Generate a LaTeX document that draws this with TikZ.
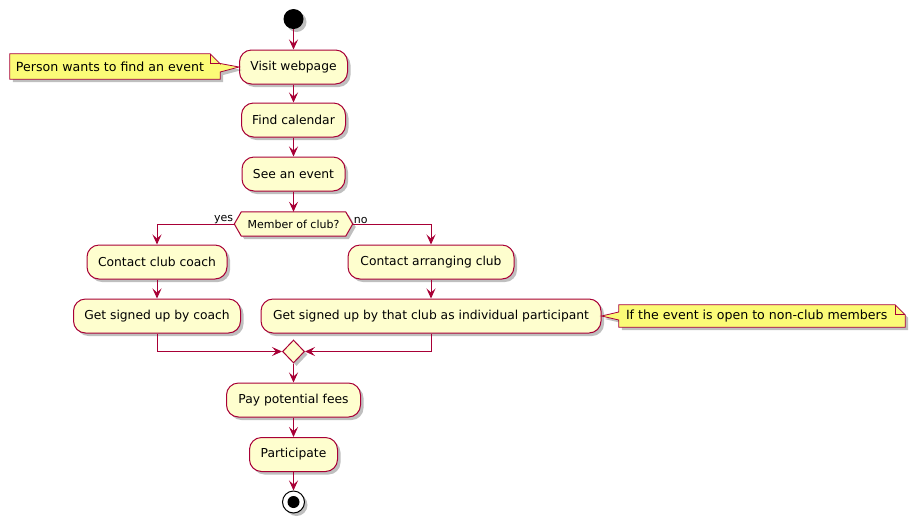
\documentclass[tikz,border=0pt]{standalone}
\usepackage{fontspec}
\setmainfont{DejaVu Sans}
\usetikzlibrary{arrows.meta,shapes.geometric,shadows,calc}
\definecolor{bd}{HTML}{A80036}
\definecolor{bg}{HTML}{FEFECE}
\definecolor{nt}{HTML}{FBFB77}
\tikzset{
  shd/.style={drop shadow={shadow xshift=3pt,shadow yshift=-3pt,opacity=0.25,fill=black}},
  act/.style={draw=bd, fill=bg, rounded corners=12pt, line width=1pt, minimum height=34pt, inner sep=0pt, font=\fontsize{12.3}{14}\selectfont, shd},
  flow/.style={draw=bd, line width=1pt, -{Stealth[length=10pt,width=9pt,inset=4pt]}},
  lbl/.style={font=\fontsize{11}{13}\selectfont, inner sep=1pt},
  notebox/.style={draw=none, inner sep=0pt, minimum height=25pt},
  noteline/.style={draw=bd, fill=nt, line width=0.8pt, shd},
  notetext/.style={font=\fontsize{12.6}{14}\selectfont, inner sep=0pt, anchor=west},
}
\begin{document}
\begin{tikzpicture}[x=1pt,y=-1pt]
\useasboundingbox (0,0) rectangle (915,523);
% start
\node[circle, fill=black, minimum size=20pt, inner sep=0pt, shd] (start) at (293.5,19) {};
% activities
\node[act, minimum width=108pt] (visit) at (293.5,67) {Visit webpage};
\node[act, minimum width=104pt] (cal) at (293.5,120) {Find calendar};
\node[act, minimum width=103pt] (see) at (293.5,174) {See an event};
% decision
\node[draw=none, minimum width=118pt, minimum height=24pt, inner sep=0pt] (q) at (293.5,224) {};
\path[draw=bd, fill=bg, line width=1pt, shd] (q.west) -- ([xshift=7pt]q.north west) -- ([xshift=-7pt]q.north east) -- (q.east) -- ([xshift=-7pt]q.south east) -- ([xshift=7pt]q.south west) -- cycle;
\node[lbl] at (q) {Member of club?};
\node[act, minimum width=140pt] (coach) at (157,262) {Contact club coach};
\node[act, minimum width=167pt] (signc) at (157,316) {Get signed up by coach};
\node[act, minimum width=340pt] (signa) at (431,316) {Get signed up by that club as individual participant};
\node[act, minimum width=166pt] (arr) at (431,262) {Contact arranging club};
\node[diamond, draw=bd, fill=bg, line width=1pt, minimum width=22pt, minimum height=23pt, inner sep=0pt, shd] (merge) at (293.5,351.5) {};
\node[act, minimum width=134pt] (pay) at (293.5,400) {Pay potential fees};
\node[act, minimum width=88pt] (part) at (293.5,454.5) {Participate};
% end
\node[circle, draw=black, fill=white, line width=1pt, minimum size=22pt, inner sep=0pt, shd] (end) at (293.5,502) {};
\node[circle, fill=black, minimum size=12pt, inner sep=0pt] (endin) at (end) {};
% notes
\node[notebox, minimum width=210pt] (n1) at (115,66.5) {};
\path[noteline] (n1.north west) -- ([xshift=-10pt]n1.north east) -- ([yshift=-10pt]n1.north east) -- ([yshift=3pt]n1.east) -- (visit.west) -- ([yshift=-5.5pt]n1.east) -- (n1.south east) -- (n1.south west) -- cycle;
\draw[bd, line width=0.8pt] ([xshift=-10pt]n1.north east) -- ([xshift=-10pt,yshift=-10pt]n1.north east) -- ([yshift=-10pt]n1.north east);
\node[notetext] at ([xshift=6pt]n1.west) {Person wants to find an event};
\node[notebox, minimum width=286pt, minimum height=22pt] (n2) at (762,316) {};
\path[noteline] (n2.north west) -- ([xshift=-10pt]n2.north east) -- ([yshift=-10pt]n2.north east) -- (n2.south east) -- (n2.south west) -- ([yshift=-4pt]n2.west) -- (signa.east) -- ([yshift=4pt]n2.west) -- cycle;
\draw[bd, line width=0.8pt] ([xshift=-10pt]n2.north east) -- ([xshift=-10pt,yshift=-10pt]n2.north east) -- ([yshift=-10pt]n2.north east);
\node[notetext] at ([xshift=7pt]n2.west) {If the event is open to non-club members};
% flows
\draw[flow] (start) -- (visit);
\draw[flow] (visit) -- (cal);
\draw[flow] (cal) -- (see);
\draw[flow] (see) -- (q.north);
\draw[flow] (q.west) -| (coach.north);
\draw[flow] (q.east) -| (arr.north);
\node[lbl, anchor=south east] at ([yshift=-1pt]q.west) {yes};
\node[lbl, anchor=south west] at ([yshift=-1pt]q.east) {no};
\draw[flow] (coach) -- (signc);
\draw[flow] (arr) -- (signa);
\draw[flow] (signc.south) |- (merge.west);
\draw[flow] (signa.south) |- (merge.east);
\draw[flow] (merge) -- (pay);
\draw[flow] (pay) -- (part);
\draw[flow] (part) -- (end);
\end{tikzpicture}
\end{document}
